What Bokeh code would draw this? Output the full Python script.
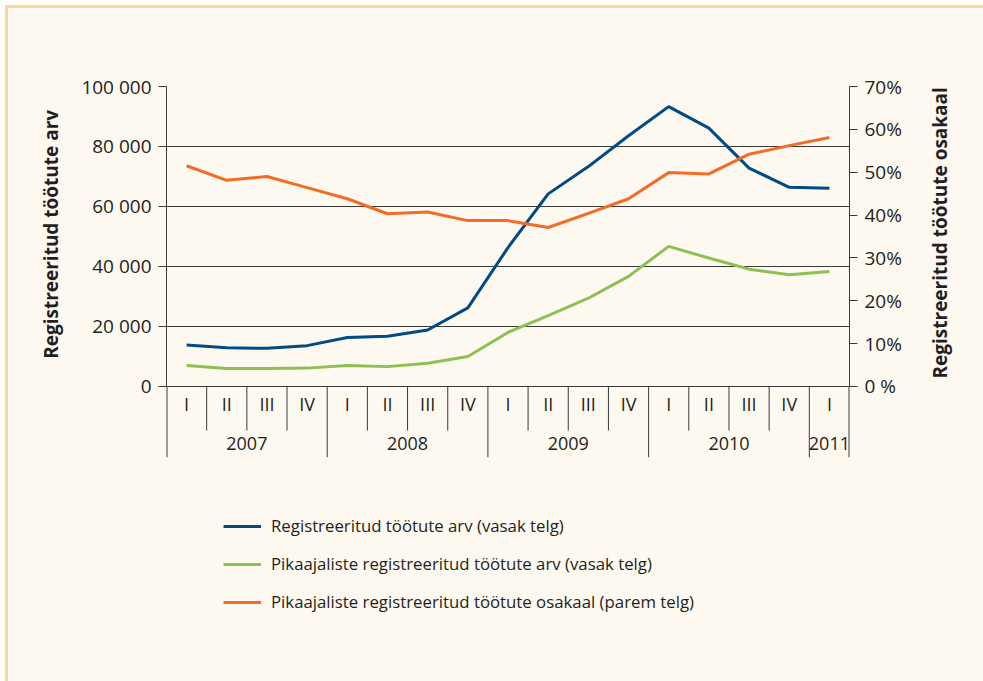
import numpy as np
from bokeh.plotting import figure
from bokeh.layouts import column
from bokeh.models import (LinearAxis, Range1d, FixedTicker, Legend, LegendItem,
                          ColumnDataSource)
from bokeh.core.properties import value
from bokeh.embed import file_html
from bokeh.resources import INLINE

# ---------------- data ----------------
quarters = ["I", "II", "III", "IV", "I", "II", "III", "IV", "I", "II", "III", "IV",
            "I", "II", "III", "IV", "I"]
years = ["2007", "2008", "2009", "2010", "2011"]
quarters_per_year = [4, 4, 4, 4, 1]

registered = [13800, 12900, 12700, 13600, 16300, 16700, 18800, 26200,
              46300, 64200, 73300, 83600, 93300, 86100, 72800, 66400, 66100]
long_term = [7000, 6000, 6000, 6100, 7000, 6600, 7700, 10000,
             18000, 23600, 29400, 36700, 46700, 42800, 39100, 37200, 38300]
long_term_share = [51.5, 48.1, 49.0, 46.4, 43.8, 40.3, 40.7, 38.7,
                   38.7, 37.1, 40.4, 43.8, 49.9, 49.6, 54.2, 56.2, 58.1]

series_names = ["Registreeritud töötute arv (vasak telg)",
                "Pikaajaliste registreeritud töötute arv (vasak telg)",
                "Pikaajaliste registreeritud töötute osakaal (parem telg)"]

left_ticks = [0, 20000, 40000, 60000, 80000, 100000]
left_tick_labels = ["0", "20 000", "40 000", "60 000", "80 000", "100 000"]
right_ticks = [0, 10, 20, 30, 40, 50, 60, 70]
right_tick_labels = ["0 %", "10%", "20%", "30%", "40%", "50%", "60%", "70%"]

left_title = "Registreeritud töötute arv"
right_title = "Registreeritud töötute osakaal"

# ---------------- style ----------------
FONT = "Open Sans"
BG = "#FEF9F0"
FRAME_EDGE = "#FFD595"
INK = "#231F20"
RULE = "#3a3a3a"
BLUE = "#004A86"
GREEN = "#8CC152"
ORANGE = "#F26C25"

Y_MAX = 100000
Y_MIN = -23700                 # room beneath zero line for category labels
PCT_MAX = 70
PCT_MIN = Y_MIN / Y_MAX * PCT_MAX
QUARTER_LABEL_Y = -5700
YEAR_LABEL_Y = -19000
QUARTER_SEP_Y = -14700
LEFT_TITLE_ANCHOR = 50700      # centre of the left (centred) title
RIGHT_TITLE_ANCHOR = 2650      # start of the right (start-aligned) title

n = len(quarters)
x = np.arange(n) + 0.5

p = figure(frame_width=683, frame_height=371,
           min_border_left=158, min_border_right=134,
           min_border_top=78, min_border_bottom=224,
           x_range=Range1d(0, n), y_range=Range1d(Y_MIN, Y_MAX),
           x_axis_location=None, y_axis_location="left",
           output_backend="svg", toolbar_location=None,
           background_fill_color=BG, border_fill_color=BG,
           outline_line_color=None)
p.extra_y_ranges = {"pct": Range1d(PCT_MIN, PCT_MAX)}

# grid
p.xgrid.visible = False
p.ygrid.ticker = FixedTicker(ticks=left_ticks)
p.ygrid.grid_line_color = RULE
p.ygrid.grid_line_width = 1


def style_axis(ax, ticks, labels, bound_max):
    ax.ticker = FixedTicker(ticks=ticks)
    ax.major_label_overrides = {t: l for t, l in zip(ticks, labels)}
    ax.bounds = (0, bound_max)
    ax.minor_tick_line_color = None
    ax.major_tick_in = 0
    ax.major_tick_out = 8
    ax.major_tick_line_color = RULE
    ax.axis_line_color = RULE
    ax.major_label_standoff = 7
    ax.major_label_text_font = FONT
    ax.major_label_text_font_size = "19px"
    ax.major_label_text_color = INK


style_axis(p.yaxis[0], left_ticks, left_tick_labels, Y_MAX)
ra = LinearAxis(y_range_name="pct")
style_axis(ra, right_ticks, right_tick_labels, PCT_MAX)
p.add_layout(ra, "right")


def title_axis(text, anchor, orientation, standoff):
    ax = LinearAxis(ticker=FixedTicker(ticks=[anchor]),
                    major_label_overrides={anchor: text},
                    major_label_orientation=orientation,
                    major_label_standoff=standoff,
                    axis_line_color=None, major_tick_line_color=None,
                    minor_tick_line_color=None,
                    major_label_text_font=FONT,
                    major_label_text_font_style="bold",
                    major_label_text_font_size="19px",
                    major_label_text_color=INK)
    return ax


p.add_layout(title_axis(left_title, LEFT_TITLE_ANCHOR, "parallel", 8), "left")
p.add_layout(title_axis(right_title, RIGHT_TITLE_ANCHOR, np.pi / 2, 30), "right")

# category separators (derived from the quarter/year structure)
year_edges = np.concatenate([[0], np.cumsum(quarters_per_year)])
inner_q = [i for i in range(1, n) if i not in set(year_edges)]
p.segment(x0=inner_q, y0=0, x1=inner_q, y1=QUARTER_SEP_Y,
          line_color=RULE, line_width=1)
inner_y = [e for e in year_edges if 0 < e < n]
p.segment(x0=inner_y, y0=0, x1=inner_y, y1=Y_MIN,
          line_color=RULE, line_width=1)
outer = [0, n]
p.segment(x0=outer, y0=0, x1=outer, y1=Y_MIN, line_color=RULE, line_width=2)

# category labels
qsrc = ColumnDataSource(dict(x=x, y=[QUARTER_LABEL_Y] * n, t=quarters))
p.text(x="x", y="y", text="t", source=qsrc, text_font=value(FONT),
       text_font_size="18px", text_color=INK, text_align="center",
       text_baseline="middle")
year_centers = (year_edges[:-1] + year_edges[1:]) / 2
ysrc = ColumnDataSource(dict(x=year_centers, y=[YEAR_LABEL_Y] * len(years), t=years))
p.text(x="x", y="y", text="t", source=ysrc, text_font=value(FONT),
       text_font_size="18px", text_color=INK, text_align="center",
       text_baseline="middle")

# series
r1 = p.line(x, registered, line_color=BLUE, line_width=3)
r2 = p.line(x, long_term, line_color=GREEN, line_width=3)
r3 = p.line(x, long_term_share, line_color=ORANGE, line_width=3, y_range_name="pct")

legend = Legend(items=[LegendItem(label=series_names[0], renderers=[r1]),
                       LegendItem(label=series_names[1], renderers=[r2]),
                       LegendItem(label=series_names[2], renderers=[r3])],
                location="top_left", orientation="vertical",
                background_fill_alpha=0, border_line_color=None,
                label_text_font=FONT, label_text_font_size="16.8px",
                label_text_color=INK, glyph_width=38, glyph_height=20,
                label_height=20, spacing=15, padding=10, margin=57,
                label_standoff=10)
p.add_layout(legend, "below")

page = column(p, styles={"margin-left": "5px", "margin-top": "5px",
                         "border-left": f"3px solid {FRAME_EDGE}",
                         "border-top": f"3px solid {FRAME_EDGE}"})

open("out.html", "w").write(file_html(page, INLINE))
